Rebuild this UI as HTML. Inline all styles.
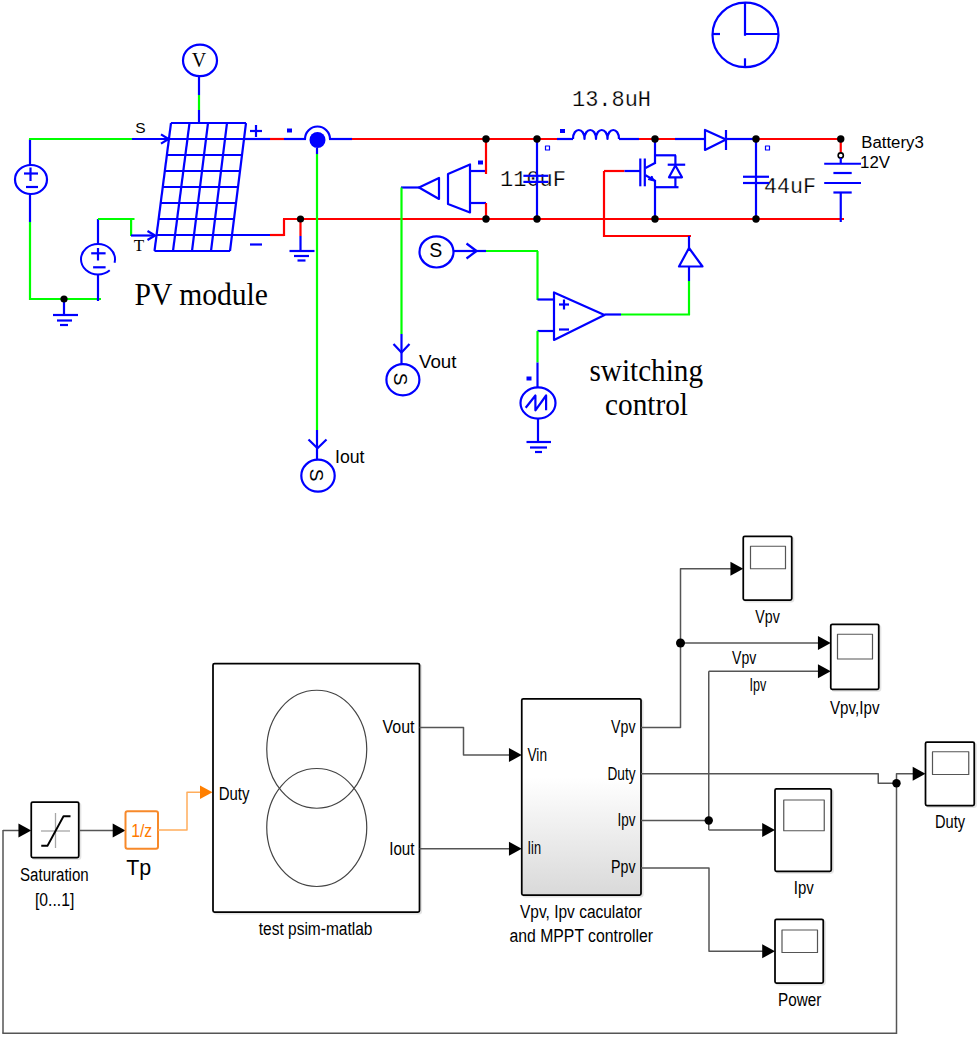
<!DOCTYPE html>
<html><head><meta charset="utf-8"><style>
html,body{margin:0;padding:0;background:#fff;}
body{width:980px;height:1038px;overflow:hidden;}
svg{display:block;}
</style></head><body>
<svg width="980" height="1038" viewBox="0 0 980 1038" font-family="Liberation Sans, sans-serif" stroke-linejoin="round">
<rect x="0" y="0" width="980" height="1038" fill="#fff"/>
<ellipse cx="745.5" cy="34.9" rx="33" ry="32.2" stroke="#0000ff" stroke-width="2.2" fill="none"/>
<line x1="745" y1="35.8" x2="745" y2="3" stroke="#0000ff" stroke-width="2.2" />
<line x1="744" y1="34" x2="778.5" y2="34" stroke="#0000ff" stroke-width="2.2" />
<line x1="712" y1="34" x2="720" y2="34" stroke="#0000ff" stroke-width="2.2" />
<line x1="745" y1="58.3" x2="745" y2="67" stroke="#0000ff" stroke-width="2.2" />
<line x1="30" y1="139" x2="30" y2="165" stroke="#0000ff" stroke-width="2.2" />
<ellipse cx="31" cy="179.5" rx="16" ry="14.5" stroke="#0000ff" stroke-width="2.2" fill="none"/>
<line x1="30" y1="194" x2="30" y2="222" stroke="#0000ff" stroke-width="2.2" />
<line x1="30" y1="222" x2="30" y2="300" stroke="#00ff00" stroke-width="2.2" />
<line x1="24" y1="173.5" x2="38" y2="173.5" stroke="#0000ff" stroke-width="2.2" />
<line x1="30.5" y1="167.5" x2="30.5" y2="181" stroke="#0000ff" stroke-width="2.2" />
<line x1="26" y1="187" x2="38" y2="187" stroke="#0000ff" stroke-width="2.2" />
<line x1="29" y1="139" x2="132" y2="139" stroke="#00ff00" stroke-width="2.2" />
<line x1="132" y1="139" x2="170" y2="139" stroke="#0000ff" stroke-width="2.2" />
<polyline points="161,134.4 168.5,139 161,143.6" stroke="#0000ff" stroke-width="2.2" fill="none" />
<line x1="29" y1="299" x2="101" y2="299" stroke="#00ff00" stroke-width="2.2" />
<line x1="64" y1="299" x2="64" y2="315" stroke="#0000ff" stroke-width="2.2" />
<line x1="53" y1="315" x2="78" y2="315" stroke="#0000ff" stroke-width="2.2" />
<line x1="57" y1="320.5" x2="72" y2="320.5" stroke="#0000ff" stroke-width="2.2" />
<line x1="60" y1="325" x2="68" y2="325" stroke="#0000ff" stroke-width="2.2" />
<line x1="98" y1="301" x2="98" y2="274.5" stroke="#0000ff" stroke-width="2.2" />
<ellipse cx="98" cy="259.3" rx="17" ry="15.2" stroke="#0000ff" stroke-width="2" fill="none" stroke-dasharray="3.5 9 200"/>
<line x1="98" y1="244.5" x2="98" y2="219" stroke="#0000ff" stroke-width="2.2" />
<line x1="91.2" y1="253.3" x2="105.6" y2="253.3" stroke="#0000ff" stroke-width="2.2" />
<line x1="98" y1="248" x2="98" y2="260.5" stroke="#0000ff" stroke-width="2.2" />
<line x1="93.1" y1="267.3" x2="105.6" y2="267.3" stroke="#0000ff" stroke-width="2.2" />
<line x1="98" y1="219" x2="134.5" y2="219" stroke="#00ff00" stroke-width="2.2" />
<line x1="131.1" y1="219" x2="131.1" y2="236" stroke="#00ff00" stroke-width="2.2" />
<line x1="131" y1="235.5" x2="155" y2="235.5" stroke="#0000ff" stroke-width="2.2" />
<polyline points="147.5,231 155,235.5 147.5,240" stroke="#0000ff" stroke-width="2.2" fill="none" />
<text x="140.5" y="133" font-family="Liberation Sans" font-size="15.5" fill="#000000" text-anchor="middle" >S</text>
<text x="139" y="251.2" font-family="Liberation Serif" font-size="17" fill="#000000" text-anchor="middle" >T</text>
<line x1="171.0" y1="123" x2="246.0" y2="123" stroke="#0000ff" stroke-width="2.2" />
<line x1="168.94" y1="139" x2="244.0" y2="139" stroke="#0000ff" stroke-width="2.2" />
<line x1="166.88" y1="155" x2="242.0" y2="155" stroke="#0000ff" stroke-width="2.2" />
<line x1="164.81" y1="171" x2="240.0" y2="171" stroke="#0000ff" stroke-width="2.2" />
<line x1="162.75" y1="187" x2="238.0" y2="187" stroke="#0000ff" stroke-width="2.2" />
<line x1="160.69" y1="203" x2="236.0" y2="203" stroke="#0000ff" stroke-width="2.2" />
<line x1="158.62" y1="219" x2="234.0" y2="219" stroke="#0000ff" stroke-width="2.2" />
<line x1="156.56" y1="235" x2="232.0" y2="235" stroke="#0000ff" stroke-width="2.2" />
<line x1="154.5" y1="251" x2="230.0" y2="251" stroke="#0000ff" stroke-width="2.2" />
<line x1="171" y1="123" x2="154.5" y2="251" stroke="#0000ff" stroke-width="2.2" />
<line x1="189.5" y1="123" x2="173" y2="251" stroke="#0000ff" stroke-width="2.2" />
<line x1="208" y1="123" x2="192" y2="251" stroke="#0000ff" stroke-width="2.2" />
<line x1="227" y1="123" x2="211" y2="251" stroke="#0000ff" stroke-width="2.2" />
<line x1="246" y1="123" x2="230" y2="251" stroke="#0000ff" stroke-width="2.2" />
<ellipse cx="200" cy="60.4" rx="17" ry="15.8" stroke="#0000ff" stroke-width="2.2" fill="none"/>
<text x="199" y="67" font-family="Liberation Serif" font-size="20" fill="#000000" text-anchor="middle" >V</text>
<line x1="199" y1="76.5" x2="199" y2="95" stroke="#0000ff" stroke-width="2.2" />
<line x1="199" y1="95" x2="199" y2="110" stroke="#00ff00" stroke-width="2.2" />
<line x1="199" y1="110" x2="199" y2="123" stroke="#0000ff" stroke-width="2.2" />
<line x1="250" y1="131" x2="262" y2="131" stroke="#0000ff" stroke-width="2.2" />
<line x1="256" y1="125" x2="256" y2="137" stroke="#0000ff" stroke-width="2.2" />
<line x1="250" y1="244.5" x2="262" y2="244.5" stroke="#0000ff" stroke-width="2.2" />
<line x1="244" y1="139" x2="270" y2="139" stroke="#0000ff" stroke-width="2.2" />
<line x1="270" y1="139" x2="284" y2="139" stroke="#ff0000" stroke-width="2.2" />
<line x1="284" y1="139" x2="306" y2="139" stroke="#0000ff" stroke-width="2.2" />
<path d="M305,139 A12.5,12.5 0 0 1 330,139" stroke="#0000ff" stroke-width="2.2" fill="none" />
<line x1="329" y1="139" x2="352" y2="139" stroke="#0000ff" stroke-width="2.2" />
<line x1="352" y1="139" x2="557" y2="139" stroke="#ff0000" stroke-width="2.2" />
<line x1="557" y1="139" x2="573" y2="139" stroke="#0000ff" stroke-width="2.2" />
<rect x="287" y="128.5" width="5" height="4" rx="0" stroke="#0000ff" stroke-width="0" fill="#0000ff" />
<line x1="283" y1="219" x2="844" y2="219" stroke="#ff0000" stroke-width="2.2" />
<line x1="317" y1="148" x2="317" y2="154" stroke="#0000ff" stroke-width="2.2" />
<line x1="317" y1="154" x2="317" y2="430" stroke="#00ff00" stroke-width="2.2" />
<line x1="317" y1="430" x2="317" y2="459.7" stroke="#0000ff" stroke-width="2.2" />
<polyline points="308.5,439.5 317.5,448.3 326.5,439.5" stroke="#0000ff" stroke-width="2.2" fill="none" />
<ellipse cx="318" cy="475.7" rx="16.7" ry="16" stroke="#0000ff" stroke-width="2.2" fill="none"/>
<text x="316" y="481.5" font-family="Liberation Sans" font-size="19" fill="#000000" text-anchor="middle" transform="rotate(90 316 475)">S</text>
<text x="335" y="463.4" font-family="Liberation Sans" font-size="17.5" fill="#000000" text-anchor="start" textLength="29.5" lengthAdjust="spacingAndGlyphs" >Iout</text>
<line x1="230" y1="235" x2="270" y2="235" stroke="#0000ff" stroke-width="2.2" />
<line x1="270" y1="235" x2="284" y2="235" stroke="#ff0000" stroke-width="2.2" />
<line x1="284" y1="236" x2="284" y2="219" stroke="#ff0000" stroke-width="2.2" />
<line x1="840.75" y1="192.5" x2="840.75" y2="222" stroke="#0000ff" stroke-width="2.2" />
<line x1="300.5" y1="219" x2="300.5" y2="236" stroke="#ff0000" stroke-width="2.2" />
<line x1="300.5" y1="236" x2="300.5" y2="251" stroke="#0000ff" stroke-width="2.2" />
<line x1="289.5" y1="251" x2="314.5" y2="251" stroke="#0000ff" stroke-width="2.2" />
<line x1="294" y1="256" x2="309" y2="256" stroke="#0000ff" stroke-width="2.2" />
<line x1="297.5" y1="260.5" x2="305.5" y2="260.5" stroke="#0000ff" stroke-width="2.2" />
<line x1="401" y1="187.5" x2="419" y2="187.5" stroke="#0000ff" stroke-width="2.2" />
<line x1="401.5" y1="187.5" x2="401.5" y2="334" stroke="#00ff00" stroke-width="2.2" />
<line x1="401.5" y1="334" x2="401.5" y2="364" stroke="#0000ff" stroke-width="2.2" />
<polyline points="393.5,344 401.5,352.5 409.5,344" stroke="#0000ff" stroke-width="2.2" fill="none" />
<ellipse cx="402.9" cy="379.7" rx="16.5" ry="15.6" stroke="#0000ff" stroke-width="2.2" fill="none"/>
<text x="400.4" y="385.5" font-family="Liberation Sans" font-size="19" fill="#000000" text-anchor="middle" transform="rotate(90 400.4 379)">S</text>
<text x="419" y="368" font-family="Liberation Sans" font-size="17.5" fill="#000000" text-anchor="start" textLength="37.5" lengthAdjust="spacingAndGlyphs" >Vout</text>
<polygon points="419,187.5 439,178 439,199" stroke="#0000ff" stroke-width="2.2" fill="none" />
<polygon points="448,174 470,164.5 470,212.5 448,204" stroke="#0000ff" stroke-width="2.2" fill="none" />
<line x1="470" y1="171" x2="486" y2="171" stroke="#0000ff" stroke-width="2.2" />
<line x1="470" y1="203" x2="486" y2="203" stroke="#0000ff" stroke-width="2.2" />
<line x1="486" y1="139" x2="486" y2="174" stroke="#ff0000" stroke-width="2.2" />
<line x1="486" y1="203" x2="486" y2="219" stroke="#ff0000" stroke-width="2.2" />
<rect x="478" y="160.5" width="5" height="4" rx="0" stroke="#0000ff" stroke-width="0" fill="#0000ff" />
<text x="533" y="186.4" font-family="Liberation Mono" font-size="22" fill="#000000" text-anchor="middle" textLength="66" lengthAdjust="spacingAndGlyphs" stroke="#fff" stroke-width="0.25">110uF</text>
<line x1="537" y1="139" x2="537" y2="219" stroke="#0000ff" stroke-width="2.2" />
<line x1="523.4" y1="175.8" x2="548.4" y2="175.8" stroke="#0000ff" stroke-width="2.2" />
<line x1="523.4" y1="181.9" x2="548.4" y2="181.9" stroke="#0000ff" stroke-width="2.2" />
<rect x="545.5" y="146" width="4" height="4" rx="0" stroke="#0000ff" stroke-width="1.2" fill="none" />
<path d="M573,139 L573,139 C573.0,127 584.5,127 584.5,139 C584.5,127 596.0,127 596.0,139 C596.0,127 607.5,127 607.5,139 C607.5,127 619.0,127 619.0,139 " stroke="#0000ff" stroke-width="2.2" fill="none" />
<rect x="560" y="129" width="5" height="4" rx="0" stroke="#0000ff" stroke-width="0" fill="#0000ff" />
<text x="572" y="105.5" font-family="Liberation Mono" font-size="22" fill="#000000" text-anchor="start" textLength="79" lengthAdjust="spacingAndGlyphs" stroke="#fff" stroke-width="0.25">13.8uH</text>
<line x1="619" y1="139" x2="639" y2="139" stroke="#0000ff" stroke-width="2.2" />
<line x1="639" y1="139" x2="675" y2="139" stroke="#ff0000" stroke-width="2.2" />
<line x1="675" y1="139" x2="705" y2="139" stroke="#0000ff" stroke-width="2.2" />
<line x1="655" y1="139" x2="655" y2="164" stroke="#0000ff" stroke-width="2.2" />
<line x1="655" y1="163" x2="645.5" y2="168" stroke="#0000ff" stroke-width="2.2" />
<line x1="640.3" y1="158.5" x2="640.3" y2="186.3" stroke="#0000ff" stroke-width="2.2" />
<line x1="644.8" y1="158.5" x2="644.8" y2="186.3" stroke="#0000ff" stroke-width="2.2" />
<line x1="604" y1="171" x2="624.5" y2="171" stroke="#ff0000" stroke-width="2.2" />
<line x1="624.5" y1="171" x2="640" y2="171" stroke="#0000ff" stroke-width="2.2" />
<line x1="645.5" y1="175.3" x2="655" y2="180.6" stroke="#0000ff" stroke-width="2.2" />
<polygon points="648,179.5 654,181 652,176" stroke="#0000ff" stroke-width="1" fill="#0000ff" />
<line x1="655" y1="180" x2="655" y2="219" stroke="#0000ff" stroke-width="2.2" />
<line x1="655" y1="155.3" x2="676" y2="155.3" stroke="#0000ff" stroke-width="2.2" />
<line x1="675.4" y1="155.3" x2="675.4" y2="164.7" stroke="#0000ff" stroke-width="2.2" />
<line x1="667.7" y1="164.7" x2="685.2" y2="164.7" stroke="#0000ff" stroke-width="2.2" />
<polygon points="675.4,165.5 669,177.3 682,177.3" stroke="#0000ff" stroke-width="2.2" fill="none" />
<line x1="675.4" y1="177.3" x2="675.4" y2="188" stroke="#0000ff" stroke-width="2.2" />
<line x1="655" y1="187.2" x2="678.5" y2="187.2" stroke="#0000ff" stroke-width="2.2" />
<line x1="604" y1="171" x2="604" y2="237" stroke="#ff0000" stroke-width="2.2" />
<line x1="603" y1="236" x2="691" y2="236" stroke="#ff0000" stroke-width="2.2" />
<line x1="689" y1="236" x2="689" y2="248" stroke="#0000ff" stroke-width="2.2" />
<polygon points="689,248 679,266.5 702.5,266.5" stroke="#0000ff" stroke-width="2.2" fill="none" />
<line x1="689" y1="266.5" x2="689" y2="281" stroke="#0000ff" stroke-width="2.2" />
<line x1="689" y1="281" x2="689" y2="315" stroke="#00ff00" stroke-width="2.2" />
<line x1="621" y1="314.5" x2="690" y2="314.5" stroke="#00ff00" stroke-width="2.2" />
<line x1="604.5" y1="314.5" x2="621" y2="314.5" stroke="#0000ff" stroke-width="2.2" />
<polygon points="705,130 705,150 726,139.5" stroke="#0000ff" stroke-width="2.2" fill="none" />
<line x1="726" y1="130" x2="726" y2="150" stroke="#0000ff" stroke-width="2.2" />
<line x1="726" y1="139" x2="756" y2="139" stroke="#0000ff" stroke-width="2.2" />
<line x1="756" y1="139" x2="840" y2="139" stroke="#ff0000" stroke-width="2.2" />
<text x="790" y="192.5" font-family="Liberation Mono" font-size="22" fill="#000000" text-anchor="middle" textLength="52" lengthAdjust="spacingAndGlyphs" stroke="#fff" stroke-width="0.25">44uF</text>
<line x1="756" y1="139" x2="756" y2="219" stroke="#0000ff" stroke-width="2.2" />
<line x1="743" y1="176.75" x2="769" y2="176.75" stroke="#0000ff" stroke-width="2.2" />
<line x1="743" y1="183" x2="769" y2="183" stroke="#0000ff" stroke-width="2.2" />
<rect x="765.5" y="146" width="4" height="4" rx="0" stroke="#0000ff" stroke-width="1.2" fill="none" />
<line x1="840.75" y1="139" x2="840.75" y2="153" stroke="#ff0000" stroke-width="2.2" />
<ellipse cx="840.75" cy="155.5" rx="2.6" ry="2.6" stroke="#000000" stroke-width="1.6" fill="#fff"/>
<line x1="840.75" y1="158" x2="840.75" y2="164" stroke="#0000ff" stroke-width="2.2" />
<line x1="824.2" y1="163.75" x2="861" y2="163.75" stroke="#0000ff" stroke-width="2.2" />
<line x1="833.4" y1="173" x2="851.7" y2="173" stroke="#0000ff" stroke-width="2.2" />
<line x1="824.2" y1="183" x2="861" y2="183" stroke="#0000ff" stroke-width="2.2" />
<line x1="833.4" y1="192.5" x2="851.7" y2="192.5" stroke="#0000ff" stroke-width="2.2" />
<text x="861.25" y="148" font-family="Liberation Sans" font-size="16" fill="#000000" text-anchor="start" textLength="62.5" lengthAdjust="spacingAndGlyphs" >Battery3</text>
<text x="860" y="168" font-family="Liberation Sans" font-size="16" fill="#000000" text-anchor="start" textLength="30" lengthAdjust="spacingAndGlyphs" >12V</text>
<ellipse cx="436.5" cy="251.9" rx="17" ry="15.6" stroke="#0000ff" stroke-width="2.2" fill="none"/>
<text x="435.7" y="257" font-family="Liberation Sans" font-size="19.5" fill="#000000" text-anchor="middle" >S</text>
<line x1="454" y1="251" x2="486" y2="251" stroke="#0000ff" stroke-width="2.2" />
<polyline points="466.5,243.5 476.5,251 466.5,258.5" stroke="#0000ff" stroke-width="2.2" fill="none" />
<line x1="486" y1="251" x2="538" y2="251" stroke="#00ff00" stroke-width="2.2" />
<line x1="537.5" y1="251" x2="537.5" y2="300" stroke="#00ff00" stroke-width="2.2" />
<line x1="537.5" y1="299.5" x2="554" y2="299.5" stroke="#0000ff" stroke-width="2.2" />
<polygon points="554,292.5 554,340 604.5,315" stroke="#0000ff" stroke-width="2.2" fill="none" />
<line x1="559" y1="304.5" x2="569" y2="304.5" stroke="#0000ff" stroke-width="2.2" />
<line x1="564" y1="299.5" x2="564" y2="309.5" stroke="#0000ff" stroke-width="2.2" />
<line x1="559" y1="329.5" x2="569" y2="329.5" stroke="#0000ff" stroke-width="2.2" />
<line x1="537.5" y1="331" x2="554" y2="331" stroke="#0000ff" stroke-width="2.2" />
<line x1="537.5" y1="331" x2="537.5" y2="362.5" stroke="#00ff00" stroke-width="2.2" />
<line x1="537.5" y1="362.5" x2="537.5" y2="387.5" stroke="#0000ff" stroke-width="2.2" />
<rect x="526.5" y="376.5" width="5" height="4" rx="0" stroke="#0000ff" stroke-width="0" fill="#0000ff" />
<ellipse cx="538" cy="403" rx="17.5" ry="15.6" stroke="#0000ff" stroke-width="2.2" fill="none"/>
<polyline points="525.7,407.75 535.4,395.5 535.4,410.3 546.1,395.5 546.1,410.3" stroke="#0000ff" stroke-width="2.2" fill="none" />
<line x1="538" y1="418.5" x2="538" y2="442" stroke="#0000ff" stroke-width="2.2" />
<line x1="526.5" y1="442" x2="551" y2="442" stroke="#0000ff" stroke-width="2.2" />
<line x1="530" y1="447.5" x2="547" y2="447.5" stroke="#0000ff" stroke-width="2.2" />
<line x1="535" y1="452" x2="542" y2="452" stroke="#0000ff" stroke-width="2.2" />
<text x="134.5" y="305" font-family="Liberation Serif" font-size="30.5" fill="#000000" text-anchor="start" textLength="133.5" lengthAdjust="spacingAndGlyphs" >PV module</text>
<text x="589.5" y="381" font-family="Liberation Serif" font-size="30.5" fill="#000000" text-anchor="start" textLength="113.5" lengthAdjust="spacingAndGlyphs" >switching</text>
<text x="605" y="415" font-family="Liberation Serif" font-size="30.5" fill="#000000" text-anchor="start" textLength="83" lengthAdjust="spacingAndGlyphs" >control</text>
<circle cx="64" cy="299" r="3.6" fill="#000000"/>
<circle cx="317.5" cy="140" r="8" fill="#0000ff"/>
<circle cx="300.5" cy="219" r="3.6" fill="#000000"/>
<circle cx="486" cy="139" r="3.7" fill="#000000"/>
<circle cx="486" cy="219" r="3.7" fill="#000000"/>
<circle cx="537" cy="139" r="3.7" fill="#000000"/>
<circle cx="537" cy="219" r="3.7" fill="#000000"/>
<circle cx="655" cy="139" r="3.7" fill="#000000"/>
<circle cx="655" cy="219" r="3.7" fill="#000000"/>
<circle cx="756" cy="139" r="3.7" fill="#000000"/>
<circle cx="756" cy="219" r="3.7" fill="#000000"/>
<circle cx="840.75" cy="139" r="3.7" fill="#000000"/>
<rect x="32.85" y="803.6" width="47.5" height="55.5" rx="2" fill="none" stroke="#e4e4e4" stroke-width="2"/>
<rect x="31.25" y="802" width="47.5" height="55.5" rx="1.5" stroke="#000" stroke-width="1.75" fill="#fff" />
<line x1="41" y1="831" x2="70" y2="831" stroke="#a6a6a6" stroke-width="1.3" />
<line x1="55.5" y1="813" x2="55.5" y2="848" stroke="#a6a6a6" stroke-width="1.3" />
<polyline points="41.25,845.75 47.5,845.75 63.5,816.25 70.5,816.25" stroke="#000000" stroke-width="1.9" fill="none" />
<line x1="3" y1="830.5" x2="20" y2="830.5" stroke="#555555" stroke-width="1.5" />
<polygon points="18.45,823.6 31.25,830.5 18.45,837.4" stroke="#000000" stroke-width="0" fill="#000000" />
<line x1="3" y1="830" x2="3" y2="1033.5" stroke="#555555" stroke-width="1.5" />
<line x1="2.4" y1="1033.3" x2="897" y2="1033.3" stroke="#555555" stroke-width="1.5" />
<line x1="896.5" y1="1034" x2="896.5" y2="783" stroke="#555555" stroke-width="1.5" />
<line x1="79" y1="830.5" x2="115" y2="830.5" stroke="#555555" stroke-width="1.5" />
<polygon points="112.7,823.6 125.5,830.5 112.7,837.4" stroke="#000000" stroke-width="0" fill="#000000" />
<rect x="125.5" y="811.25" width="32.5" height="37.5" rx="2" stroke="#f7892a" stroke-width="2" fill="#fff" />
<text x="141.7" y="836.5" font-family="Liberation Sans" font-size="17.5" fill="#ff7a00" text-anchor="middle" textLength="21" lengthAdjust="spacingAndGlyphs" >1/z</text>
<polyline points="158,830 187,830 187,792.2 201,792.2" stroke="#ffad5c" stroke-width="1.5" fill="none" />
<polygon points="200.0,785.4000000000001 212.5,792.2 200.0,799.0" stroke="#ff7f00" stroke-width="0" fill="#ff7f00" />
<text x="20" y="880.5" font-family="Liberation Sans" font-size="18" fill="#000000" text-anchor="start" textLength="68.75" lengthAdjust="spacingAndGlyphs" >Saturation</text>
<text x="35" y="906.25" font-family="Liberation Sans" font-size="18" fill="#000000" text-anchor="start" textLength="39.25" lengthAdjust="spacingAndGlyphs" >[0...1]</text>
<text x="126.25" y="875" font-family="Liberation Sans" font-size="22" fill="#000000" text-anchor="start" textLength="25" lengthAdjust="spacingAndGlyphs" >Tp</text>
<rect x="214.6" y="665.1" width="206.5" height="248.5" rx="2" fill="none" stroke="#e4e4e4" stroke-width="2"/>
<rect x="213" y="663.5" width="206.5" height="248.5" rx="1.5" stroke="#000" stroke-width="1.75" fill="#fff" />
<ellipse cx="316.75" cy="749.25" rx="50" ry="59" stroke="#444" stroke-width="1.2" fill="none"/>
<ellipse cx="316.75" cy="827.5" rx="50" ry="59" stroke="#444" stroke-width="1.2" fill="none"/>
<text x="218.75" y="799.5" font-family="Liberation Sans" font-size="18" fill="#000000" text-anchor="start" textLength="30.75" lengthAdjust="spacingAndGlyphs" >Duty</text>
<text x="414.5" y="733.25" font-family="Liberation Sans" font-size="18" fill="#000000" text-anchor="end" textLength="32" lengthAdjust="spacingAndGlyphs" >Vout</text>
<text x="414.5" y="854.5" font-family="Liberation Sans" font-size="18" fill="#000000" text-anchor="end" textLength="25.25" lengthAdjust="spacingAndGlyphs" >Iout</text>
<text x="258.75" y="934.5" font-family="Liberation Sans" font-size="18" fill="#000000" text-anchor="start" textLength="113.75" lengthAdjust="spacingAndGlyphs" >test psim-matlab</text>
<polyline points="419.5,727.5 463.5,727.5 463.5,755 511,755" stroke="#555555" stroke-width="1.5" fill="none" />
<polygon points="508.95,748.1 521.75,755 508.95,761.9" stroke="#000000" stroke-width="0" fill="#000000" />
<line x1="419.5" y1="848.75" x2="511" y2="848.75" stroke="#555555" stroke-width="1.5" />
<polygon points="508.95,841.85 521.75,848.75 508.95,855.65" stroke="#000000" stroke-width="0" fill="#000000" />
<defs><linearGradient id="gr" x1="0" y1="0" x2="0" y2="1"><stop offset="0" stop-color="#ffffff"/><stop offset="0.4" stop-color="#ffffff"/><stop offset="1" stop-color="#d9d9d9"/></linearGradient></defs>
<rect x="523.35" y="700.35" width="119.25" height="196.25" rx="2" fill="none" stroke="#e4e4e4" stroke-width="2"/>
<rect x="521.75" y="698.75" width="119.25" height="196.25" rx="1.5" stroke="#000" stroke-width="1.75" fill="url(#gr)" />
<text x="527.5" y="760.75" font-family="Liberation Sans" font-size="18" fill="#000000" text-anchor="start" textLength="19.5" lengthAdjust="spacingAndGlyphs" >Vin</text>
<text x="527.5" y="853.75" font-family="Liberation Sans" font-size="18" fill="#000000" text-anchor="start" textLength="13.5" lengthAdjust="spacingAndGlyphs" >Iin</text>
<text x="635.5" y="733.25" font-family="Liberation Sans" font-size="18" fill="#000000" text-anchor="end" textLength="24.5" lengthAdjust="spacingAndGlyphs" >Vpv</text>
<text x="635.5" y="780" font-family="Liberation Sans" font-size="18" fill="#000000" text-anchor="end" textLength="28" lengthAdjust="spacingAndGlyphs" >Duty</text>
<text x="635.5" y="826.25" font-family="Liberation Sans" font-size="18" fill="#000000" text-anchor="end" textLength="18" lengthAdjust="spacingAndGlyphs" >Ipv</text>
<text x="635.5" y="872.5" font-family="Liberation Sans" font-size="18" fill="#000000" text-anchor="end" textLength="24.5" lengthAdjust="spacingAndGlyphs" >Ppv</text>
<text x="520" y="918" font-family="Liberation Sans" font-size="18" fill="#000000" text-anchor="start" textLength="122" lengthAdjust="spacingAndGlyphs" >Vpv, Ipv caculator</text>
<text x="509.5" y="942" font-family="Liberation Sans" font-size="18" fill="#000000" text-anchor="start" textLength="143.5" lengthAdjust="spacingAndGlyphs" >and MPPT controller</text>
<polyline points="641,727.5 680.5,727.5 680.5,568.75 732,568.75" stroke="#555555" stroke-width="1.5" fill="none" />
<polygon points="730.45,561.85 743.25,568.75 730.45,575.65" stroke="#000000" stroke-width="0" fill="#000000" />
<line x1="680.5" y1="643" x2="819" y2="643" stroke="#555555" stroke-width="1.5" />
<polygon points="817.95,636.1 830.75,643 817.95,649.9" stroke="#000000" stroke-width="0" fill="#000000" />
<line x1="641" y1="820.5" x2="708.75" y2="820.5" stroke="#555555" stroke-width="1.5" />
<line x1="708.75" y1="671.25" x2="708.75" y2="830" stroke="#555555" stroke-width="1.5" />
<line x1="708.75" y1="671.25" x2="819" y2="671.25" stroke="#555555" stroke-width="1.5" />
<polygon points="817.95,664.35 830.75,671.25 817.95,678.15" stroke="#000000" stroke-width="0" fill="#000000" />
<line x1="708.75" y1="830" x2="764" y2="830" stroke="#555555" stroke-width="1.5" />
<polygon points="762.2,823.1 775,830 762.2,836.9" stroke="#000000" stroke-width="0" fill="#000000" />
<polyline points="641,868 709,868 709,951.25 764,951.25" stroke="#555555" stroke-width="1.5" fill="none" />
<polygon points="762.2,944.35 775,951.25 762.2,958.15" stroke="#000000" stroke-width="0" fill="#000000" />
<polyline points="641,773.75 878.25,773.75 878.25,783.25 896.5,783.25" stroke="#555555" stroke-width="1.5" fill="none" />
<polyline points="896.5,783.25 896.5,773.75 914,773.75" stroke="#555555" stroke-width="1.5" fill="none" />
<polygon points="912.7,766.85 925.5,773.75 912.7,780.65" stroke="#000000" stroke-width="0" fill="#000000" />
<text x="732" y="663.75" font-family="Liberation Sans" font-size="18" fill="#000000" text-anchor="start" textLength="24.25" lengthAdjust="spacingAndGlyphs" >Vpv</text>
<text x="749.5" y="691.25" font-family="Liberation Sans" font-size="18" fill="#000000" text-anchor="start" textLength="16.75" lengthAdjust="spacingAndGlyphs" >Ipv</text>
<rect x="744.85" y="537.85" width="48.5" height="63.75" rx="2" fill="none" stroke="#e4e4e4" stroke-width="2"/>
<rect x="743.25" y="536.25" width="48.5" height="63.75" rx="1.5" stroke="#000" stroke-width="1.75" fill="#fff" />
<rect x="750.5" y="546.25" width="35.0" height="22.5" rx="0" stroke="#555" stroke-width="1.2" fill="#fff" />
<text x="767.5" y="622.5" font-family="Liberation Sans" font-size="18" fill="#000000" text-anchor="middle" textLength="24.5" lengthAdjust="spacingAndGlyphs" >Vpv</text>
<rect x="832.35" y="625.85" width="48.0" height="65.0" rx="2" fill="none" stroke="#e4e4e4" stroke-width="2"/>
<rect x="830.75" y="624.25" width="48.0" height="65.0" rx="1.5" stroke="#000" stroke-width="1.75" fill="#fff" />
<rect x="837.5" y="634.25" width="35.0" height="24.75" rx="0" stroke="#555" stroke-width="1.2" fill="#fff" />
<text x="830" y="713.5" font-family="Liberation Sans" font-size="18" fill="#000000" text-anchor="start" textLength="49.5" lengthAdjust="spacingAndGlyphs" >Vpv,Ipv</text>
<rect x="927.1" y="743.6" width="48.75" height="63.5" rx="2" fill="none" stroke="#e4e4e4" stroke-width="2"/>
<rect x="925.5" y="742" width="48.75" height="63.5" rx="1.5" stroke="#000" stroke-width="1.75" fill="#fff" />
<rect x="932.5" y="751.75" width="36.25" height="22.75" rx="0" stroke="#555" stroke-width="1.2" fill="#fff" />
<text x="935" y="828" font-family="Liberation Sans" font-size="18" fill="#000000" text-anchor="start" textLength="30" lengthAdjust="spacingAndGlyphs" >Duty</text>
<rect x="776.6" y="790.35" width="56.25" height="82.5" rx="2" fill="none" stroke="#e4e4e4" stroke-width="2"/>
<rect x="775" y="788.75" width="56.25" height="82.5" rx="1.5" stroke="#000" stroke-width="1.75" fill="#fff" />
<rect x="783.75" y="800" width="40.5" height="30.75" rx="0" stroke="#555" stroke-width="1.2" fill="#fff" />
<text x="793.75" y="893.75" font-family="Liberation Sans" font-size="18" fill="#000000" text-anchor="start" textLength="20" lengthAdjust="spacingAndGlyphs" >Ipv</text>
<rect x="776.6" y="920.85" width="48.25" height="63.75" rx="2" fill="none" stroke="#e4e4e4" stroke-width="2"/>
<rect x="775" y="919.25" width="48.25" height="63.75" rx="1.5" stroke="#000" stroke-width="1.75" fill="#fff" />
<rect x="782" y="930" width="35.5" height="22.5" rx="0" stroke="#555" stroke-width="1.2" fill="#fff" />
<text x="778" y="1005.75" font-family="Liberation Sans" font-size="18" fill="#000000" text-anchor="start" textLength="43.25" lengthAdjust="spacingAndGlyphs" >Power</text>
<circle cx="680.5" cy="643" r="4.5" fill="#000000"/>
<circle cx="708.75" cy="820.5" r="4.2" fill="#000000"/>
<circle cx="896.5" cy="783.25" r="4.2" fill="#000000"/>
</svg>
</body></html>
